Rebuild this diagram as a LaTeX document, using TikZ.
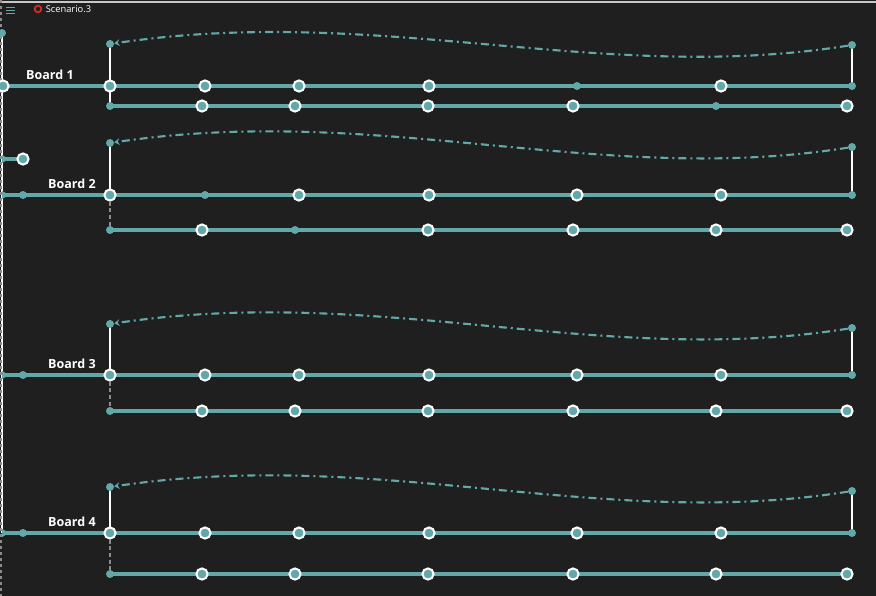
\documentclass[tikz,border=0pt]{standalone}
\usepackage{fontspec}
\setmainfont{Open Sans}
\usetikzlibrary{arrows.meta,shapes.geometric}
\definecolor{bgc}{RGB}{31,31,31}
\definecolor{tealc}{RGB}{98,168,168}
\definecolor{greyc}{RGB}{140,140,140}
\definecolor{topc}{RGB}{200,200,200}
\definecolor{redc}{RGB}{220,40,40}
\pgfdeclarelayer{bg}
\pgfdeclarelayer{lines}
\pgfsetlayers{bg,lines,main}
\tikzset{
  bignode/.style={circle,fill=tealc,draw=white,line width=1.5pt,minimum size=8.4pt,inner sep=0pt},
  smnode/.style={circle,fill=tealc,minimum size=6pt,inner sep=0pt},
  trinode/.style={isosceles triangle,isosceles triangle apex angle=60,fill=tealc,minimum height=5pt,minimum width=6pt,inner sep=0pt},
  mainline/.style={draw=tealc,line width=2.6pt},
  lowline/.style={draw=tealc,line width=2.4pt},
  wline/.style={draw=white,line width=1.6pt},
  gline/.style={draw=greyc,line width=1.5pt,dash pattern=on 3pt off 2pt},
  railline/.style={draw=greyc,line width=1pt,dash pattern=on 2.5pt off 2pt},
  curveline/.style={draw=tealc,line width=1.6pt,dash pattern=on 6pt off 3pt on 1.5pt off 3pt,-{Stealth[length=4pt,width=5pt]}},
  boardlabel/.style={text=white,font=\bfseries\fontsize{9.4}{11}\selectfont,inner sep=0pt},
}
\begin{document}
\begin{tikzpicture}[x=0.75pt,y=-0.75pt]
\useasboundingbox (0,0) rectangle (876,596);
\begin{pgfonlayer}{bg}
\fill[bgc] (0,0) rectangle (876,596);
\end{pgfonlayer}
% top bar
\coordinate (tl) at (0,2);
\coordinate (tr) at (876,2);
\draw[topc,line width=1.1pt] (tl) -- (tr);
\foreach \yy in {7,10,13} \draw[tealc,line width=0.7pt] (6,\yy) -- (15,\yy);
\node[circle,draw=redc,line width=1.3pt,minimum size=5pt,inner sep=0pt] (rec) at (38,9) {};
\node[anchor=west,text=white,font=\fontsize{7}{8}\selectfont,inner sep=0pt] (scen) at (45.5,9.5) {Scenario.3};
% left rail
\coordinate (lrt) at (1,0);
\coordinate (lrb) at (1,596);
\draw[railline] (lrt) -- (lrb);
\node[smnode] (top0) at (2,33) {};
% Board 1
\node[bignode] (b1s) at (3,86) {};
\node[smnode] (b1t) at (110,44) {};
\node[smnode] (b1r) at (852,45) {};
\foreach \x/\t [count=\i] in {110/bignode,205/bignode,299/bignode,429/bignode,577/smnode,721/bignode,852/smnode}
  \node[\t] (b1m\i) at (\x,86) {};
\foreach \x/\t [count=\i] in {110/smnode,202/bignode,295/bignode,428/bignode,573/bignode,716/smnode,847/bignode}
  \node[\t] (b1l\i) at (\x,106) {};
\node[boardlabel] (lab1) at (50,74.5) {Board 1};
% Board 2
\node[trinode] (b2a) at (4.5,159) {};
\node[bignode] (b2b) at (23,159) {};
\node[trinode] (b2s) at (4.5,195) {};
\node[smnode] (b2p) at (23,195) {};
\node[smnode] (b2t) at (110,143) {};
\node[smnode] (b2r) at (852,147) {};
\foreach \x/\t [count=\i] in {110/bignode,205/smnode,299/bignode,429/bignode,577/bignode,721/bignode,852/smnode}
  \node[\t] (b2m\i) at (\x,195) {};
\foreach \x/\t [count=\i] in {110/smnode,202/bignode,295/smnode,428/bignode,573/bignode,716/bignode,847/bignode}
  \node[\t] (b2l\i) at (\x,230) {};
\node[boardlabel] (lab2) at (72,184) {Board 2};
% Board 3
\node[trinode] (b3s) at (4.5,375) {};
\node[smnode] (b3p) at (23,375) {};
\node[smnode] (b3t) at (110,324) {};
\node[smnode] (b3r) at (852,328) {};
\foreach \x/\t [count=\i] in {110/bignode,205/bignode,299/bignode,429/bignode,577/bignode,721/bignode,852/smnode}
  \node[\t] (b3m\i) at (\x,375) {};
\foreach \x/\t [count=\i] in {110/smnode,202/bignode,295/bignode,428/bignode,573/bignode,716/bignode,847/bignode}
  \node[\t] (b3l\i) at (\x,411) {};
\node[boardlabel] (lab3) at (72,363.5) {Board 3};
% Board 4
\node[trinode] (b4s) at (4.5,533) {};
\node[smnode] (b4p) at (23,533) {};
\node[smnode] (b4t) at (110,487) {};
\node[smnode] (b4r) at (852,491) {};
\foreach \x/\t [count=\i] in {110/bignode,205/bignode,299/bignode,429/bignode,577/bignode,721/bignode,852/smnode}
  \node[\t] (b4m\i) at (\x,533) {};
\foreach \x/\t [count=\i] in {110/smnode,202/bignode,295/bignode,428/bignode,573/bignode,716/bignode,847/bignode}
  \node[\t] (b4l\i) at (\x,574) {};
\node[boardlabel] (lab4) at (72,521.5) {Board 4};
% connectors
\begin{pgfonlayer}{lines}
\draw[draw=white,line width=1.2pt] (top0.center) -- (b4s.center -| top0.center);
\draw[mainline] (b1s.center) -- (b1m7.center);
\draw[lowline] (b1l1.center) -- (b1l7.center);
\draw[wline] (b1t.center) -- (b1l1.center);
\draw[wline] (b1r.center) -- (b1m7.center);
\draw[curveline] (b1r) .. controls (600,85) and (380,4) .. (b1t);
\draw[lowline] (b2a.center) -- (b2b.center);
\draw[mainline] (b2s.center) -- (b2m7.center);
\draw[lowline] (b2l1.center) -- (b2l7.center);
\draw[wline] (b2t.center) -- (b2m1.center);
\draw[gline] (b2m1.center) -- (b2l1.center);
\draw[wline] (b2r.center) -- (b2m7.center);
\draw[curveline] (b2r) .. controls (600,187) and (380,103) .. (b2t);
\draw[mainline] (b3s.center) -- (b3m7.center);
\draw[lowline] (b3l1.center) -- (b3l7.center);
\draw[wline] (b3t.center) -- (b3m1.center);
\draw[gline] (b3m1.center) -- (b3l1.center);
\draw[wline] (b3r.center) -- (b3m7.center);
\draw[curveline] (b3r) .. controls (600,368) and (380,284) .. (b3t);
\draw[mainline] (b4s.center) -- (b4m7.center);
\draw[lowline] (b4l1.center) -- (b4l7.center);
\draw[wline] (b4t.center) -- (b4m1.center);
\draw[gline] (b4m1.center) -- (b4l1.center);
\draw[wline] (b4r.center) -- (b4m7.center);
\draw[curveline] (b4r) .. controls (600,531) and (380,447) .. (b4t);
\end{pgfonlayer}
\end{tikzpicture}
\end{document}
